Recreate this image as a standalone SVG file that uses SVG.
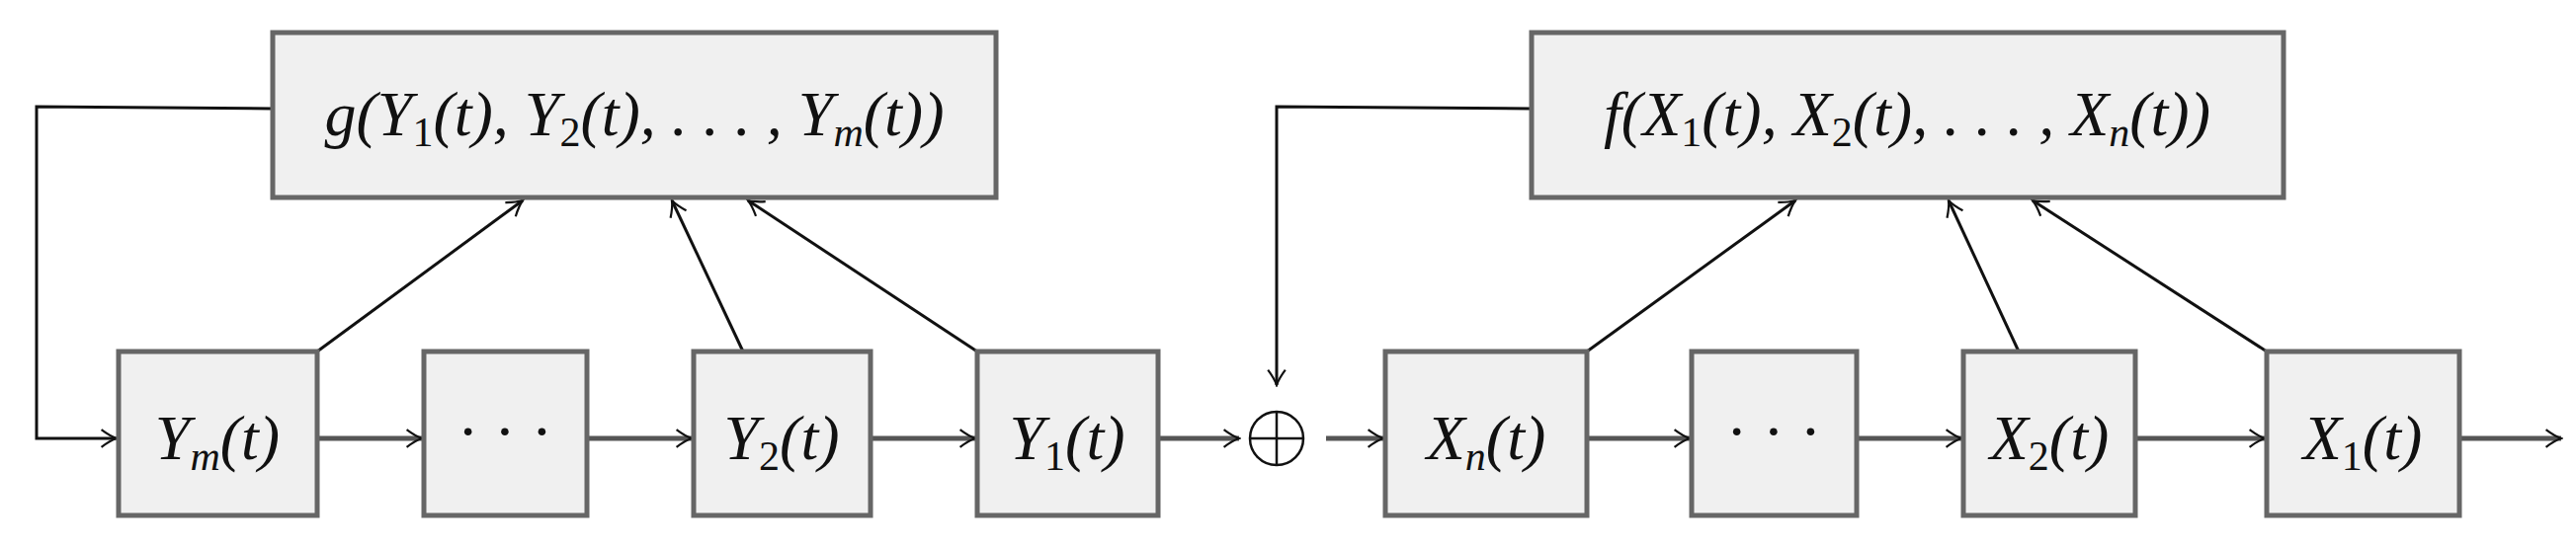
<svg xmlns="http://www.w3.org/2000/svg" width="2607" height="555" viewBox="0 0 2607 555">
<style>
.box{fill:#f0f0f0;stroke:#666;stroke-width:5}
.t{font-family:"Liberation Serif",serif;font-style:italic;font-size:64px;fill:#111;text-anchor:middle}
.n{font-style:normal}
.h{stroke:#555;stroke-width:5;fill:none}
.c{stroke:#111;stroke-width:3;fill:none}
</style>
<defs>
<marker id="b" viewBox="0 0 10 10" refX="9" refY="5" markerWidth="22" markerHeight="22" orient="auto" markerUnits="userSpaceOnUse">
<path d="M2,1 Q6,4 9,5 Q6,6 2,9" fill="none" stroke="#111" stroke-width="1"/>
</marker>
</defs>
<g id="connectors">
<path class="c" d="M276,110 L37,108 L37,444 L118,444" marker-end="url(#b)"/>
<path class="c" d="M1550,110 L1292,108 L1292,390" marker-end="url(#b)"/>
<path class="h" d="M321,444 L427,444" marker-end="url(#b)"/>
<path class="h" d="M594,444 L700,444" marker-end="url(#b)"/>
<path class="h" d="M881,444 L987,444" marker-end="url(#b)"/>
<path class="h" d="M1172,444 L1254,444" marker-end="url(#b)"/>
<path class="h" d="M1342,444 L1400,444" marker-end="url(#b)"/>
<path class="h" d="M1606,444 L1710,444" marker-end="url(#b)"/>
<path class="h" d="M1879,444 L1985,444" marker-end="url(#b)"/>
<path class="h" d="M2161,444 L2292,444" marker-end="url(#b)"/>
<path class="h" d="M2489,444 L2592,444" marker-end="url(#b)"/>
<path class="c" d="M321,356 L529,203" marker-end="url(#b)"/>
<path class="c" d="M752,356 L680,203" marker-end="url(#b)"/>
<path class="c" d="M989,356 L757,203" marker-end="url(#b)"/>
<path class="c" d="M1606,356 L1817,203" marker-end="url(#b)"/>
<path class="c" d="M2043,356 L1972,203" marker-end="url(#b)"/>
<path class="c" d="M2294,356 L2057,203" marker-end="url(#b)"/>
</g>
<g id="g"><rect class="box" x="276" y="33" width="732" height="167"/>
<text class="t" x="642" y="137">g(Y<tspan class="n" font-size="42" dy="11">1</tspan><tspan dy="-11">(t), Y</tspan><tspan class="n" font-size="42" dy="11">2</tspan><tspan dy="-11">(t), . . . , Y</tspan><tspan font-size="42" dy="11">m</tspan><tspan dy="-11">(t))</tspan></text></g>
<g id="ym"><rect class="box" x="120" y="356" width="201" height="166"/><text class="t" x="220" y="465">Y<tspan font-size="42" dy="11">m</tspan><tspan dy="-11">(t)</tspan></text></g>
<g id="ydots"><rect class="box" x="429" y="356" width="165" height="166"/><text class="t n" x="511" y="458">· · ·</text></g>
<g id="y2"><rect class="box" x="702" y="356" width="179" height="166"/><text class="t" x="791" y="465">Y<tspan class="n" font-size="42" dy="11">2</tspan><tspan dy="-11">(t)</tspan></text></g>
<g id="y1"><rect class="box" x="989" y="356" width="183" height="166"/><text class="t" x="1080" y="465">Y<tspan class="n" font-size="42" dy="11">1</tspan><tspan dy="-11">(t)</tspan></text></g>
<g id="plus"><circle cx="1292" cy="444" r="27" fill="none" stroke="#111" stroke-width="2.5"/><path d="M1265,444 H1319 M1292,417 V471" stroke="#111" stroke-width="2.5"/></g>
<g id="f"><rect class="box" x="1550" y="33" width="761" height="167"/>
<text class="t" x="1930" y="137">f(X<tspan class="n" font-size="42" dy="11">1</tspan><tspan dy="-11">(t), X</tspan><tspan class="n" font-size="42" dy="11">2</tspan><tspan dy="-11">(t), . . . , X</tspan><tspan font-size="42" dy="11">n</tspan><tspan dy="-11">(t))</tspan></text></g>
<g id="xn"><rect class="box" x="1402" y="356" width="204" height="166"/><text class="t" x="1504" y="465">X<tspan font-size="42" dy="11">n</tspan><tspan dy="-11">(t)</tspan></text></g>
<g id="xdots"><rect class="box" x="1712" y="356" width="167" height="166"/><text class="t n" x="1795" y="458">· · ·</text></g>
<g id="x2"><rect class="box" x="1987" y="356" width="174" height="166"/><text class="t" x="2074" y="465">X<tspan class="n" font-size="42" dy="11">2</tspan><tspan dy="-11">(t)</tspan></text></g>
<g id="x1"><rect class="box" x="2294" y="356" width="195" height="166"/><text class="t" x="2391" y="465">X<tspan class="n" font-size="42" dy="11">1</tspan><tspan dy="-11">(t)</tspan></text></g>
</svg>
